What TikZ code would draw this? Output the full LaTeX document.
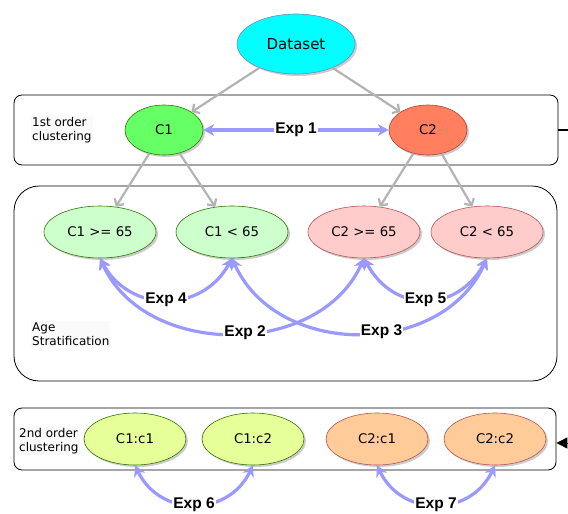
\documentclass[tikz,border=0pt]{standalone}
\usepackage{fontspec}
\setmainfont{DejaVu Sans}
\newfontfamily\expfont{Liberation Sans}
\usetikzlibrary{shapes.geometric,arrows.meta,shadows}
\definecolor{expc}{HTML}{9999FF}
\definecolor{grayarr}{HTML}{B3B3B3}
\definecolor{dsfill}{HTML}{00FFFF}
\definecolor{dsline}{HTML}{6C8EBF}
\definecolor{gfill}{HTML}{66FF66}
\definecolor{gline}{HTML}{2D7600}
\definecolor{rfill}{HTML}{FF7F5F}
\definecolor{rline}{HTML}{AE4132}
\definecolor{lgfill}{HTML}{CCFFCC}
\definecolor{lgline}{HTML}{2D7600}
\definecolor{lrfill}{HTML}{FFCCCC}
\definecolor{lrline}{HTML}{B85450}
\definecolor{ygfill}{HTML}{E6FF99}
\definecolor{orfill}{HTML}{FFCC99}
\begin{document}
\begin{tikzpicture}[x=1pt,y=-1pt,
  ell/.style={ellipse, draw, line width=0.6pt, inner sep=0pt,
    drop shadow={shadow xshift=2pt, shadow yshift=-2pt, fill=black!40, opacity=0.5},
    font=\fontsize{13.3}{15}\selectfont},
  box/.style={draw=black, line width=0.8pt, inner sep=0pt},
  sidelabel/.style={anchor=west, align=left, fill=gray!4, inner sep=1pt,
    font=\fontsize{12}{14.5}\selectfont},
  grayarrow/.style={draw=grayarr, line width=2.2pt, -{Straight Barb[length=5pt,width=11pt,line width=2.2pt]}},
  exparr/.style={draw=expc, line width=3.2pt, {Stealth[length=11pt,width=12pt]}-{Stealth[length=11pt,width=12pt]}},
  explabel/.style={fill=white, inner sep=1pt, text=black, font=\expfont\bfseries\fontsize{15.5}{17}\selectfont}
]
\useasboundingbox (0,0) rectangle (568,514);

% containers
\node[box, rounded corners=8pt, minimum width=544pt, minimum height=70pt] (box1) at (286,130) {};
\node[box, rounded corners=25pt, minimum width=543pt, minimum height=195pt] (box2) at (285.5,283.5) {};
\node[box, rounded corners=8pt, minimum width=542pt, minimum height=62pt] (box3) at (285,439) {};

% side labels
\node[sidelabel] (l1) at (31,130) {1st order\\clustering};
\node[sidelabel] (l2) at (31,334) {Age\\Stratification};
\node[sidelabel] (l3) at (18,441) {2nd order\\clustering};

% nodes
\node[ell, fill=dsfill, draw=dsline, minimum width=118pt, minimum height=60pt, font=\fontsize{15}{17}\selectfont] (ds) at (296,44) {Dataset};
\node[ell, fill=gfill, draw=gline, minimum width=78pt, minimum height=50pt] (c1) at (164,130) {C1};
\node[ell, fill=rfill, draw=rline, minimum width=78pt, minimum height=50pt] (c2) at (428,130) {C2};

\node[ell, fill=lgfill, draw=lgline, minimum width=112pt, minimum height=52pt] (c1a) at (100,232) {C1 >= 65};
\node[ell, fill=lgfill, draw=lgline, minimum width=112pt, minimum height=52pt] (c1b) at (232,232) {C1 < 65};
\node[ell, fill=lrfill, draw=lrline, minimum width=112pt, minimum height=52pt] (c2a) at (364,232) {C2 >= 65};
\node[ell, fill=lrfill, draw=lrline, minimum width=112pt, minimum height=52pt] (c2b) at (487,232) {C2 < 65};

\node[ell, fill=ygfill, draw=gline, minimum width=102pt, minimum height=52pt] (c11) at (135,439) {C1:c1};
\node[ell, fill=ygfill, draw=gline, minimum width=102pt, minimum height=52pt] (c12) at (253,439) {C1:c2};
\node[ell, fill=orfill, draw=lrline, minimum width=102pt, minimum height=52pt] (c21) at (377,439) {C2:c1};
\node[ell, fill=orfill, draw=lrline, minimum width=102pt, minimum height=52pt] (c22) at (495,439) {C2:c2};

% gray hierarchy arrows
\draw[grayarrow] (ds) -- (c1);
\draw[grayarrow] (ds) -- (c2);
\draw[grayarrow] (c1) -- (c1a);
\draw[grayarrow] (c1) -- (c1b);
\draw[grayarrow] (c2) -- (c2a);
\draw[grayarrow] (c2) -- (c2b);

% experiment arrows
\draw[exparr] (c1) -- (c2) node[midway, explabel] {Exp 1};
\draw[exparr] (c1a.south) .. controls +(45,100) and +(-45,100) .. (c2a.south) node[pos=0.54, explabel] {Exp 2};
\draw[exparr] (c1b.south) .. controls +(45,100) and +(-45,100) .. (c2b.south) node[pos=0.57, explabel] {Exp 3};
\draw[exparr] (c1a.south) .. controls +(30,55) and +(-30,55) .. (c1b.south) node[midway, explabel] {Exp 4};
\draw[exparr] (c2a.south) .. controls +(30,55) and +(-30,55) .. (c2b.south) node[midway, explabel] {Exp 5};
\draw[exparr] (c11.south) .. controls +(25,52) and +(-25,52) .. (c12.south) node[midway, explabel] {Exp 6};
\draw[exparr] (c21.south) .. controls +(25,52) and +(-25,52) .. (c22.south) node[midway, explabel] {Exp 7};

% connector leaving the picture on the right
\coordinate (r1) at (575,130);
\coordinate (r3) at (575,443);
\draw[line width=1.8pt] (box1.east) -- (r1);
\draw[line width=1pt, -{Triangle[length=11pt,width=11pt]}] (r3) -- (box3.east |- r3);
\end{tikzpicture}
\end{document}
